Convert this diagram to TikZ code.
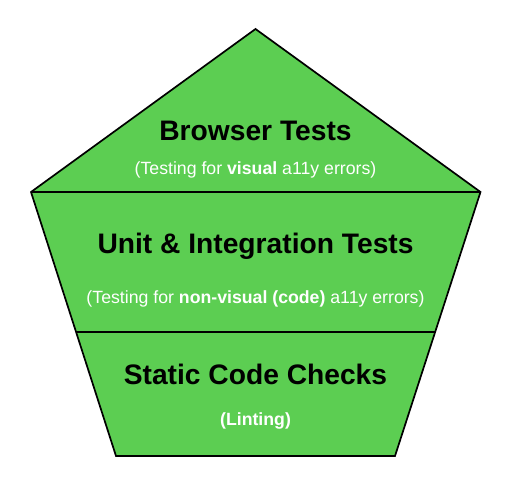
\documentclass[tikz,border=0pt]{standalone}
\usepackage{fontspec}
\setmainfont{Liberation Sans}
\definecolor{layergreen}{RGB}{92,206,82}
\tikzset{
  layer/.style={draw=black, line width=1.7pt},
  title/.style={font=\fontsize{28.2}{32}\selectfont\bfseries, text=black, anchor=base},
  subtitle/.style={font=\fontsize{17.7}{20}\selectfont, text=white, anchor=base},
}
\begin{document}
\begin{tikzpicture}[x=1pt, y=-1pt]
  \useasboundingbox (0,0) rectangle (511,488);
  % outline of the pentagon
  \coordinate (apex) at (255.5,29);
  \coordinate (tl) at (31,192);
  \coordinate (tr) at (480.5,192);
  \coordinate (ml) at (76,332);
  \coordinate (mr) at (435,332);
  \coordinate (bl) at (116,456);
  \coordinate (br) at (395,456);
  \filldraw[layer, fill=layergreen] (apex) -- (tr) -- (br) -- (bl) -- (tl) -- cycle;
  % layer borders
  \draw[layer] (tl) -- (tr);
  \draw[layer] (ml) -- (mr);

  \node[title] (browser) at (255.5,140) {Browser Tests};
  \node[subtitle] (browsersub) at (255.5,174) {(Testing for \textbf{visual} a11y errors)};
  \node[title] (unit) at (255.5,253) {Unit \& Integration Tests};
  \node[subtitle] (unitsub) at (255.5,303) {(Testing for \textbf{non-visual (code)} a11y errors)};
  \node[title] (static) at (255.5,384) {Static Code Checks};
  \node[subtitle, font=\fontsize{17.7}{20}\selectfont\bfseries] (lint) at (255.5,425) {(Linting)};
\end{tikzpicture}
\end{document}
